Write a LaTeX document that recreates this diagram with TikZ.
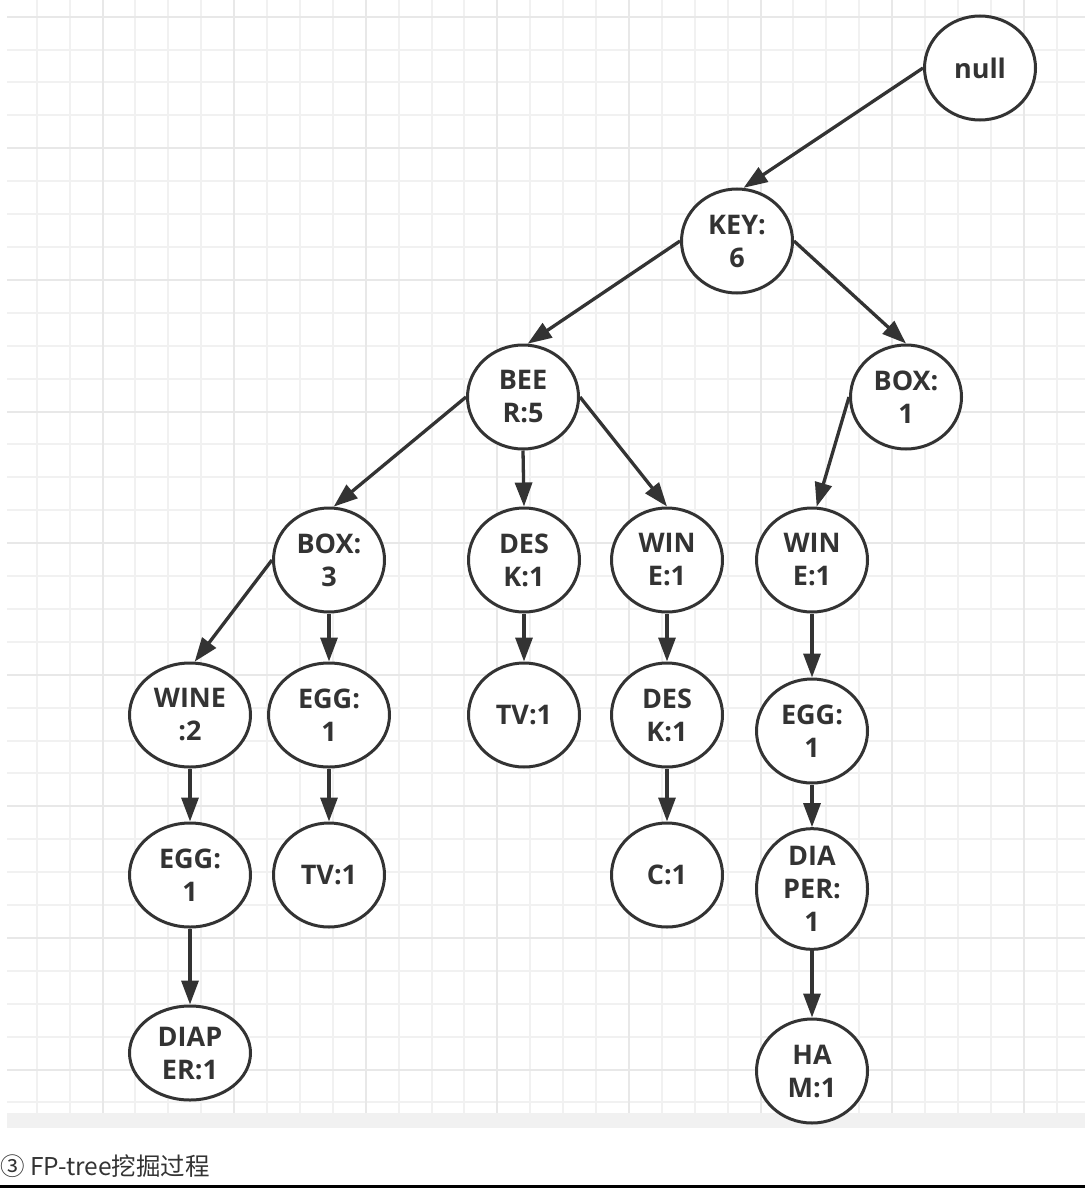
\documentclass[tikz,border=0pt]{standalone}
\usepackage{fontspec}
\setmainfont{Open Sans}
\newfontfamily\cjkfont{Noto Sans CJK SC}
\usepackage{xcolor}
\usepackage{tikz}
\usetikzlibrary{arrows.meta,positioning,shapes.geometric}
\definecolor{ink}{HTML}{333333}
\definecolor{gridminor}{HTML}{F1F1F1}
\definecolor{gridmajor}{HTML}{E8E8E8}
\definecolor{scrollbar}{HTML}{F1F1F1}
\tikzset{
  fpnode/.style={
    ellipse,draw=ink,fill=white,line width=3pt,
    minimum width=111pt,minimum height=104pt,inner sep=0pt,
    align=center,text=ink,font=\fontsize{27pt}{33pt}\selectfont\bfseries
  },
  widenode/.style={fpnode,minimum width=121pt},
  arrow/.style={-{Triangle[length=24pt,width=17pt]},draw=ink,line width=3.3pt},
  minorline/.style={draw=gridminor,line width=2pt},
  majorline/.style={draw=gridmajor,line width=2pt}
}
\begin{document}
\begin{tikzpicture}[x=1pt,y=-1pt]
\useasboundingbox (0,0) rectangle (1085,1188);

% background grid
\fill[white] (7,0) rectangle (1085,1113);
\foreach \i in {0,...,33}
  \draw[minorline] (7,{16.7+32.9*\i}) -- (1085,{16.7+32.9*\i});
\foreach \k in {1,...,32}
  \draw[minorline] ({3.8+32.9*\k},0) -- ({3.8+32.9*\k},1113);
\foreach \i in {0,4,...,32}
  \draw[majorline] (7,{16.7+32.9*\i}) -- (1085,{16.7+32.9*\i});
\foreach \k in {3,7,...,31}
  \draw[majorline] ({3.8+32.9*\k},0) -- ({3.8+32.9*\k},1113);
\fill[scrollbar] (7,1113) rectangle (1085,1128);

\node[fpnode] (null) at (980,68) {null};
\node[fpnode] (key) at (737,241) {KEY:\\6};
\node[fpnode] (beer) at (523,397) {BEE\\R:5};
\node[fpnode] (box1) at (906,397) {BOX:\\1};

\node[fpnode] (box3) at (329,560) {BOX:\\3};
\node[fpnode] (desk) at (524,560) {DES\\K:1};
\node[fpnode] (wine) at (667,560) {WIN\\E:1};
\node[fpnode] (winer) at (812,560) {WIN\\E:1};

\node[widenode] (wine2) at (190,715) {WINE\\:2};
\node[widenode] (eggm) at (329,715) {EGG:\\1};
\node[fpnode] (tv) at (524,715) {TV:1};
\node[fpnode] (desk2) at (667,715) {DES\\K:1};
\node[fpnode] (eggr) at (812,731) {EGG:\\1};

\node[widenode] (eggl) at (190,875) {EGG:\\1};
\node[fpnode] (tvm) at (329,875) {TV:1};
\node[fpnode] (c) at (667,875) {C:1};
\node[fpnode] (diaperr) at (812,889) {DIA\\PER:\\1};

\node[widenode,minimum height=94pt] (diaperl) at (190,1053) {DIAP\\ER:1};
\node[fpnode] (ham) at (812,1071) {HA\\M:1};

\draw[arrow] (null.west) -- (key.83);
\draw[arrow] (key.west) -- (beer.85);
\draw[arrow] (key.east) -- (box1.north);
\draw[arrow] (beer.west) -- (box3.85);
\draw[arrow] (beer.south) -- (desk.north);
\draw[arrow] (beer.east) -- (wine.north);
\draw[arrow] (box1.west) -- (winer.85);
\draw[arrow] (box3.west) -- (wine2.85);
\draw[arrow] (box3.south) -- (eggm.north);
\draw[arrow] (desk.south) -- (tv.north);
\draw[arrow] (wine.south) -- (desk2.north);
\draw[arrow] (winer.south) -- (eggr.north);
\draw[arrow] (wine2.south) -- (eggl.north);
\draw[arrow] (eggm.south) -- (tvm.north);
\draw[arrow] (desk2.south) -- (c.north);
\draw[arrow] (eggr.south) -- (diaperr.north);
\draw[arrow] (eggl.south) -- (diaperl.north);
\draw[arrow] (diaperr.south) -- (ham.north);

\node[anchor=base west,inner sep=0pt,text=ink,font=\cjkfont\fontsize{24.5pt}{29pt}\selectfont] (caption) at (0,1175) {③ FP-tree挖掘过程};
\draw[black,line width=3pt] (0,1186.5) -- (1085,1186.5);
\end{tikzpicture}
\end{document}
